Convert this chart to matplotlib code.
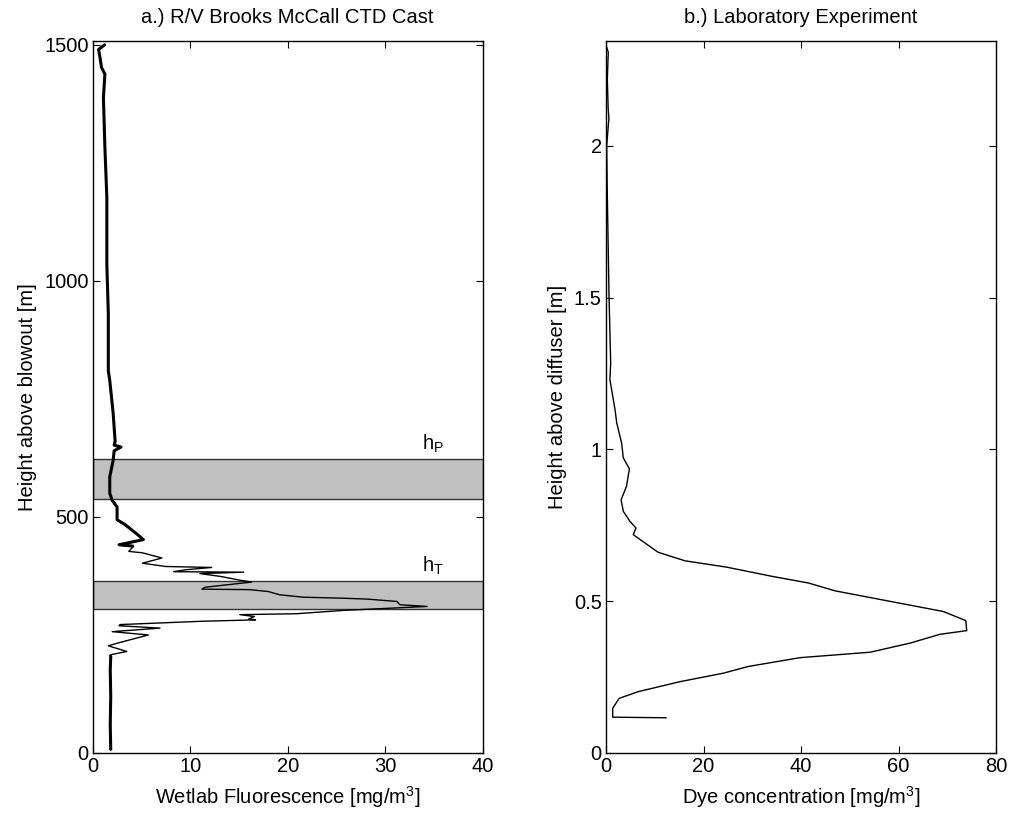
import matplotlib
matplotlib.use("Agg")
import matplotlib.pyplot as plt

plt.rcParams['font.family'] = ['Liberation Sans', 'DejaVu Sans']
plt.rcParams['mathtext.fontset'] = 'custom'
plt.rcParams['mathtext.rm'] = 'Liberation Sans'
plt.rcParams['mathtext.it'] = 'Liberation Sans'

# ---- Panel a: CTD cast (height [m], fluorescence [mg/m^3]) ----
ctd_height = [6, 60, 120, 176, 204, 208, 215, 227, 233, 250, 257, 264.5, 269.5, 272,
              279, 282, 284, 289, 293, 295, 302, 310.4,
              314, 321, 326, 328, 330, 335, 342, 346, 347, 351, 362, 366, 374, 380,
              383, 384, 388, 393, 395, 402, 413, 424, 427, 438, 441, 452, 466, 484,
              494, 521, 535, 550, 585, 620, 640, 648, 652, 660, 719, 789, 810, 931,
              1036, 1177, 1283, 1388, 1438, 1452, 1473, 1490, 1501]
ctd_fluor = [1.85, 1.8, 1.85, 1.8, 1.85, 1.8, 3.5, 1.6, 2.6, 5.7, 2.0, 6.9, 2.7, 2.8,
             11.2, 16.7, 16.0, 16.6, 15.1, 20.9, 25.7, 34.3,
             31.5, 31.2, 28.1, 25.4, 21.6, 19.2, 18.0, 16.1, 11.2, 11.5, 16.3, 15.1,
             13.1, 11.0, 15.5, 8.3, 9.5, 12.2, 7.5, 5.1, 7.1, 5.1, 3.7, 4.2, 2.7,
             5.2, 4.4, 3.3, 2.5, 2.5, 2.0, 1.75, 1.75, 2.1, 2.2, 2.9, 2.2, 2.3, 2.1,
             1.75, 1.6, 1.6, 1.45, 1.45, 1.25, 1.1, 1.25, 0.9, 0.75, 0.6, 1.3]

# Shaded bands (height ranges) and labels
band_low = [305.5, 537]
band_high = [365, 623]
band_labels = [r'$\mathrm{h_T}$', r'$\mathrm{h_P}$']
label_heights = [384, 643]

# ---- Panel b: laboratory experiment (height [m], dye [mg/m^3]) ----
lab_height = [0.116, 0.118, 0.147, 0.180, 0.202, 0.235, 0.263, 0.285, 0.314, 0.332,
              0.362, 0.391, 0.403, 0.436, 0.466, 0.534, 0.560, 0.582, 0.612, 0.633,
              0.661, 0.719, 0.741, 0.763, 0.796, 0.834, 0.878, 0.936, 0.972, 1.021,
              1.087, 1.131, 1.230, 1.285, 1.505, 1.835, 2.0, 2.066, 2.09, 2.12,
              2.22, 2.308, 2.324]
lab_dye = [12.3, 1.37, 1.37, 2.7, 6.6, 15.2, 24.1, 29.2, 39.8, 54.2,
           62.4, 68.5, 74.0, 73.8, 69.2, 47.0, 41.5, 34.0, 24.8, 16.2,
           10.7, 5.6, 6.15, 4.9, 3.55, 3.1, 4.2, 4.8, 3.55, 3.2,
           2.2, 1.85, 0.8, 0.96, 0.62, 0.27, 0.14, 0.47, 0.6, 0.45,
           0.27, 0.47, 0.14]

W, H = 1011, 816
fig = plt.figure(figsize=(W / 100, H / 100), dpi=100)

ax1 = fig.add_axes([92.7 / W, (H - 753) / H, 390 / W, 712 / H])
ax2 = fig.add_axes([606 / W, (H - 753) / H, 390 / W, 712 / H])

FS = 14.5

for ax in (ax1, ax2):
    ax.tick_params(direction='in', length=5, width=0.8, top=True, right=True,
                   labelsize=FS, pad=3)
    for s in ax.spines.values():
        s.set_linewidth(1.0)

# Panel a
for lo, hi in zip(band_low, band_high):
    ax1.axhspan(lo, hi, facecolor='#c0c0c0', edgecolor='#333333', linewidth=1.0, zorder=1)
ax1.plot(ctd_fluor, ctd_height, color='black', linewidth=1.0, zorder=3)
# thicker noisy-looking trace in the low-signal parts
i_lo = ctd_height.index(208)
i_hi = ctd_height.index(438)
ax1.plot(ctd_fluor[:i_lo + 1], ctd_height[:i_lo + 1], color='black', linewidth=2.2,
         zorder=3, solid_capstyle='butt')
ax1.plot(ctd_fluor[i_hi:], ctd_height[i_hi:], color='black', linewidth=2.2,
         zorder=3, solid_capstyle='butt')
for lab, yh in zip(band_labels, label_heights):
    ax1.text(33.8, yh, lab, fontsize=FS, ha='left', va='baseline')

ax1.set_xlim(0, 40)
ax1.set_ylim(0, 1508)
ax1.set_xticks([0, 10, 20, 30, 40])
ax1.set_yticks([0, 500, 1000, 1500])
ax1.set_xlabel(r'Wetlab Fluorescence [mg/m$^3$]', fontsize=FS, labelpad=6)
ax1.set_ylabel('Height above blowout [m]', fontsize=FS, labelpad=5)
ax1.set_title('a.) R/V Brooks McCall CTD Cast', fontsize=FS, pad=13)

# Panel b
ax2.plot(lab_dye, lab_height, color='black', linewidth=1.0)
ax2.set_xlim(0, 80)
ax2.set_ylim(0, 2.345)
ax2.set_xticks([0, 20, 40, 60, 80])
ax2.set_yticks([0, 0.5, 1, 1.5, 2])
ax2.set_yticklabels(['0', '0.5', '1', '1.5', '2'])
ax2.set_xlabel(r'Dye concentration [mg/m$^3$]', fontsize=FS, labelpad=6)
ax2.set_ylabel('Height above diffuser [m]', fontsize=FS, labelpad=5)
ax2.set_title('b.) Laboratory Experiment', fontsize=FS, pad=13)

fig.savefig('out.png', dpi=100)
